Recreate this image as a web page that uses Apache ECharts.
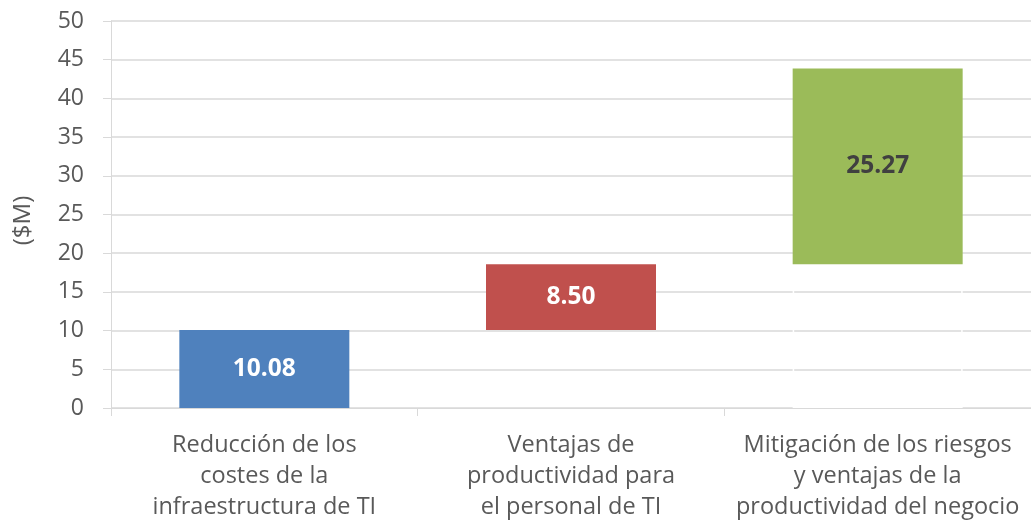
<!DOCTYPE html>
<html>
<head>
<meta charset="utf-8">
<script src="https://cdn.jsdelivr.net/npm/echarts@6/dist/echarts.min.js"></script>
<style>html,body{margin:0;padding:0;background:#fff;}#c{width:1031px;height:521px;}</style>
</head>
<body>
<div id="c"></div>
<script>
const categories = [
  "Reducción de los\ncostes de la\ninfraestructura de TI",
  "Ventajas de\nproductividad para\nel personal de TI",
  "Mitigación de los riesgos\ny ventajas de la\nproductividad del negocio"
];
const values = [10.08, 8.50, 25.27];
const barColors = ["#4F81BD", "#C0504D", "#9BBB59"];
const labelColors = ["#FFFFFF", "#FFFFFF", "#404040"];
const baseBorder = [0, 0, 1.5];
const yAxisName = "($M)";

const bases = [];
let acc = 0;
values.forEach(v => { bases.push(acc); acc += v; });

const FONT = "Open Sans";
const chart = echarts.init(document.getElementById('c'), null, {renderer: 'canvas'});
chart.setOption({
  animation: false,
  grid: {left: 111, right: 0, top: 21, bottom: 113, containLabel: false, outerBoundsMode: 'none'},
  xAxis: {
    type: 'category',
    data: categories,
    axisLine: {lineStyle: {color: '#D9D9D9', width: 1}},
    axisTick: {show: true, length: 8, lineStyle: {color: '#D9D9D9'}},
    axisLabel: {interval: 0, color: '#595959', fontFamily: FONT, fontSize: 23.5, lineHeight: 31, margin: 22}
  },
  yAxis: {
    type: 'value',
    min: 0, max: 50, interval: 5,
    name: yAxisName,
    nameLocation: 'middle',
    nameGap: 76,
    nameRotate: 90,
    nameTextStyle: {color: '#595959', fontFamily: FONT, fontSize: 24, padding: [0, 0, 0, -12]},
    axisLine: {show: true, lineStyle: {color: '#D9D9D9'}},
    axisTick: {show: true, length: 8, lineStyle: {color: '#D9D9D9'}},
    splitLine: {lineStyle: {color: '#D9D9D9', width: 1.5}},
    axisLabel: {color: '#595959', fontFamily: FONT, fontSize: 23, margin: 27}
  },
  series: [
    {
      type: 'bar', stack: 'w', barWidth: 170,
      data: bases.map((b, i) => ({
        value: b,
        itemStyle: {color: 'transparent', borderColor: '#FFFFFF', borderWidth: baseBorder[i]}
      })),
      emphasis: {disabled: true},
      silent: true
    },
    {
      type: 'bar', stack: 'w', barWidth: 170,
      data: values.map((v, i) => ({
        value: v,
        itemStyle: {color: barColors[i]},
        label: {color: labelColors[i]}
      })),
      label: {
        show: true, position: 'inside',
        fontFamily: FONT, fontWeight: 'bold', fontSize: 24.5,
        formatter: p => p.value.toFixed(2)
      }
    }
  ]
});
</script>
</body>
</html>
